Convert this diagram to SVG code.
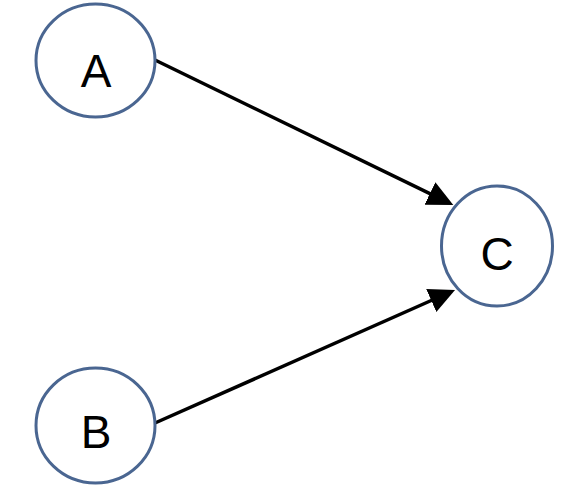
<svg xmlns="http://www.w3.org/2000/svg" width="575" height="487" viewBox="0 0 575 487">
<style>
.node ellipse{fill:#ffffff;stroke:#4a6691;stroke-width:3}
.node text{font-family:"Liberation Sans",Arial,sans-serif;font-size:46px;fill:#000;text-anchor:middle}
.edge{stroke:#000;stroke-width:3.5;fill:none;marker-end:url(#arrow)}
</style>
<defs>
<marker id="arrow" markerUnits="userSpaceOnUse" markerWidth="28" markerHeight="26" refX="16" refY="12.5" orient="auto">
<path d="M0,0 L26,12.5 L0,25 z" fill="#000"/>
</marker>
</defs>
<rect width="575" height="487" fill="#ffffff"/>
<g id="connectors">
<line class="edge" x1="155" y1="60" x2="444.3" y2="200.6"/>
<line class="edge" x1="155" y1="423" x2="445.9" y2="294"/>
</g>
<g id="node-A" class="node">
<ellipse cx="95.5" cy="60.5" rx="59.5" ry="56.5"/>
<text x="96" y="87">A</text>
</g>
<g id="node-B" class="node">
<ellipse cx="95.5" cy="425.5" rx="59.5" ry="57.5"/>
<text x="96" y="448">B</text>
</g>
<g id="node-C" class="node">
<ellipse cx="497" cy="246" rx="55.5" ry="60"/>
<text x="497" y="270">C</text>
</g>
</svg>
